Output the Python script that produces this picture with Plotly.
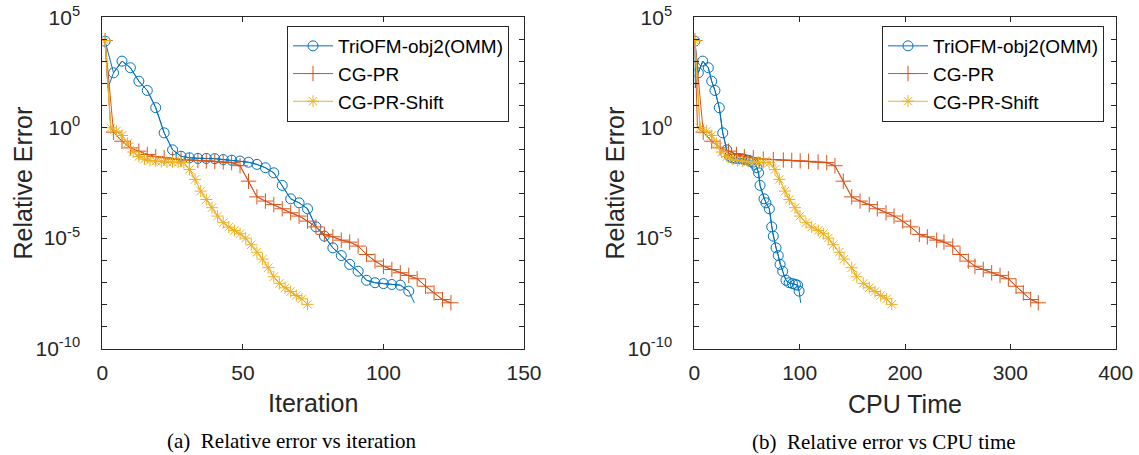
import plotly.graph_objects as go

W, H = 1139, 455

# ---------------- data ----------------
# TriOFM-obj2(OMM)
omm_iter = [1, 2, 4, 7, 10, 13, 16, 19, 22, 25, 28, 31, 34, 37, 40, 43, 46, 49, 52, 55,
            58, 61, 64, 67, 70, 73, 76, 79, 82, 85, 88, 91, 94, 97, 100, 103, 106, 109, 111]
omm_log10_err = [3.92, 1.81, 2.49, 3.02, 2.72, 2.11, 1.69, 0.91, -0.23, -1.0, -1.29, -1.36,
                 -1.39, -1.39, -1.40, -1.44, -1.47, -1.51, -1.56, -1.66, -1.81, -2.04, -2.61,
                 -3.22, -3.40, -3.67, -4.49, -4.91, -5.44, -5.79, -6.19, -6.50, -6.91, -7.02,
                 -7.06, -7.10, -7.13, -7.40, -7.93]
omm_time = [0.5, 0.9, 3.8, 8, 13.3, 16.5, 19.6, 23.7, 27, 30.8, 33.5, 36, 39, 42, 45, 48, 51,
            53.5, 55.5, 57.5, 59.5, 61, 62.4, 66.2, 68, 71.2, 73.5, 75, 77.6, 79.7, 81.4, 83.9,
            87, 90, 93.2, 96, 98, 99.5, 101]
omm_marked = [1, 0] + [1] * 36 + [0]

# CG-PR
cg_iter = [1, 3, 4, 7, 10, 13, 16, 19, 22, 25, 28, 31, 34, 37, 40, 43, 46, 49, 52, 55, 58,
           61, 64, 67, 70, 73, 76, 79, 82, 85, 88, 91, 94, 97, 100, 103, 106, 109, 112, 115,
           118, 121, 124]
cg_log10_err = [3.95, 0.0, -0.2, -0.61, -0.91, -1.06, -1.21, -1.31, -1.36, -1.42, -1.44, -1.46,
                -1.48, -1.50, -1.52, -1.55, -1.58, -1.72, -2.42, -3.13, -3.32, -3.48, -3.67,
                -3.85, -4.0, -4.23, -4.49, -4.83, -4.94, -5.09, -5.18, -5.36, -5.74, -6.04,
                -6.27, -6.42, -6.57, -6.69, -6.84, -7.18, -7.48, -7.78, -7.93]
cg_time = [0.5, 3.0, 8.5, 16.5, 24.5, 32.5, 40, 47.5, 56, 65.5, 75, 84.5, 92.5, 100.5, 108.5,
           117.5, 125.7, 133.5, 141.4, 149.4, 157.3, 166.1, 173.7, 182, 189.6, 197.8, 205.4,
           213.6, 221.2, 230.1, 237, 245.3, 252.2, 260.1, 266.4, 274.3, 282.3, 290.2, 298.1,
           305.4, 312.3, 319.3, 326.5]
cg_marked = [1, 0] + [1] * 41

# CG-PR-Shift
cgs_iter = [1, 3, 5, 7, 9, 11, 13, 15, 17, 19, 21, 23, 25, 27, 29, 31, 33, 35, 37, 39, 41,
            43, 45, 47, 49, 51, 53, 55, 57, 59, 61, 63, 65, 67, 69, 71, 73]
cgs_log10_err = [3.95, 0.0, -0.15, -0.35, -0.7, -1.1, -1.3, -1.42, -1.48, -1.51, -1.53, -1.55,
                 -1.56, -1.56, -1.58, -1.89, -2.34, -2.87, -3.25, -3.62, -4.0, -4.30, -4.50,
                 -4.65, -4.80, -5.0, -5.3, -5.64, -5.95, -6.34, -6.75, -7.05, -7.25, -7.42,
                 -7.6, -7.75, -8.0]
cgs_time = [0.5, 5.4, 11.7, 16.5, 21, 26, 31, 36, 41, 46, 51, 56, 61, 66, 71, 76.6, 80.7,
            86.1, 90.2, 95.6, 100.3, 106, 111.4, 117.7, 122.5, 127.2, 131.9, 137.6, 142.1,
            149.4, 154.2, 160.4, 166.1, 171.5, 176.9, 182.6, 187.4]
cgs_marked = [1] * 37

series_names = ["TriOFM-obj2(OMM)", "CG-PR", "CG-PR-Shift"]
y_tick_exps = [5, 0, -5, -10]
x1_ticks = [0, 50, 100, 150]
x2_ticks = [0, 100, 200, 300, 400]

# ---------------- styling ----------------
colors = ["#0072BD", "#D95319", "#EDB120"]
symbols = ["circle-open", "cross-thin-open", "asterisk-open"]
msizes = [10, 11, 10]
AX = "#262626"
SANS = "Liberation Sans, Arial, sans-serif"
SERIF = "Liberation Serif, Times New Roman, serif"


def fx(px):
    return px / W


def fy(py):
    return 1 - py / H


fig = go.Figure()

series = [
    (omm_iter, omm_time, omm_log10_err, omm_marked),
    (cg_iter, cg_time, cg_log10_err, cg_marked),
    (cgs_iter, cgs_time, cgs_log10_err, cgs_marked),
]

for panel, (xa, ya, leg) in enumerate([("x", "y", "legend"), ("x2", "y2", "legend2")]):
    for k, (it, tm, lg, mk) in enumerate(series):
        xs = it if panel == 0 else tm
        ys = [10 ** v for v in lg]
        # full line (including unmarked samples)
        fig.add_trace(go.Scatter(
            x=xs, y=ys, mode="lines", xaxis=xa, yaxis=ya,
            line=dict(color=colors[k], width=1), showlegend=False, hoverinfo="skip"))
        # marked samples
        mx = [x for x, m in zip(xs, mk) if m]
        my = [y for y, m in zip(ys, mk) if m]
        fig.add_trace(go.Scatter(
            x=mx, y=my, mode="lines+markers", xaxis=xa, yaxis=ya, legend=leg,
            name=series_names[k],
            line=dict(color=colors[k], width=1),
            marker=dict(symbol=symbols[k], size=msizes[k], color=colors[k],
                        line=dict(color=colors[k], width=1))))

xd1 = [fx(102.3), fx(524.0)]
xd2 = [fx(694.3), fx(1115.7)]
yd = [fy(348.5), fy(17.4)]

minor_y = [10.0 ** e for e in range(-10, 6) if e % 5 != 0]
ytext = ["10<sup>%d</sup>" % e for e in y_tick_exps]

common_axis = dict(showline=True, linecolor=AX, linewidth=1, mirror="allticks",
                   ticks="inside", ticklen=5, tickcolor=AX, tickwidth=1,
                   showgrid=False, zeroline=False, automargin=False,
                   ticklabeloverflow="allow",
                   tickfont=dict(family=SANS, size=21, color=AX))

xaxis_cfg = dict(common_axis, ticklabelstandoff=5)

yaxis_cfg = dict(common_axis, type="log", range=[-10, 5], domain=yd,
                 tickmode="array", tickvals=[10.0 ** e for e in y_tick_exps], ticktext=ytext,
                 ticklabelstandoff=17,
                 minor=dict(tickmode="array", tickvals=minor_y, ticks="inside",
                            ticklen=5, tickcolor=AX, tickwidth=1))

legend_common = dict(y=fy(26), xanchor="left", yanchor="top",
                     bgcolor="white", bordercolor=AX, borderwidth=1,
                     font=dict(family=SANS, size=19, color="#000000"), itemwidth=40,
                     tracegroupgap=0)

fig.update_layout(
    template="none",
    width=W, height=H, margin=dict(l=0, r=0, t=0, b=0, autoexpand=False),
    paper_bgcolor="white", plot_bgcolor="white",
    xaxis=dict(xaxis_cfg, domain=xd1, range=[0, 150], tickmode="array", tickvals=x1_ticks,
               anchor="y"),
    yaxis=dict(yaxis_cfg, anchor="x"),
    xaxis2=dict(xaxis_cfg, domain=xd2, range=[0, 400], tickmode="array", tickvals=x2_ticks,
                anchor="y2"),
    yaxis2=dict(yaxis_cfg, anchor="x2"),
    legend=dict(legend_common, x=fx(287)),
    legend2=dict(legend_common, x=fx(882)),
)

annos = [
    dict(text="Iteration", x=fx(313.2), y=fy(403), size=25, fam=SANS, angle=0),
    dict(text="CPU Time", x=fx(905), y=fy(404), size=25, fam=SANS, angle=0),
    dict(text="Relative Error", x=fx(22.5), y=fy(183), size=25, fam=SANS, angle=-90),
    dict(text="Relative Error", x=fx(614.5), y=fy(183), size=25, fam=SANS, angle=-90),
    dict(text="(a)  Relative error vs iteration", x=fx(291.7), y=fy(441), size=21,
         fam=SERIF, angle=0),
    dict(text="(b)  Relative error vs CPU time", x=fx(884), y=fy(442), size=21,
         fam=SERIF, angle=0),
]
for a in annos:
    fig.add_annotation(text=a["text"], x=a["x"], y=a["y"], xref="paper", yref="paper",
                       xanchor="center", yanchor="middle", showarrow=False,
                       textangle=a["angle"],
                       font=dict(family=a["fam"], size=a["size"],
                                 color=AX if a["fam"] == SANS else "#000000"))

# the page's default 8px body margin would push the 1139x455 figure out of the window
fig.write_html("out.html", config={"displayModeBar": False},
               post_script="document.body.style.margin='0px';")
